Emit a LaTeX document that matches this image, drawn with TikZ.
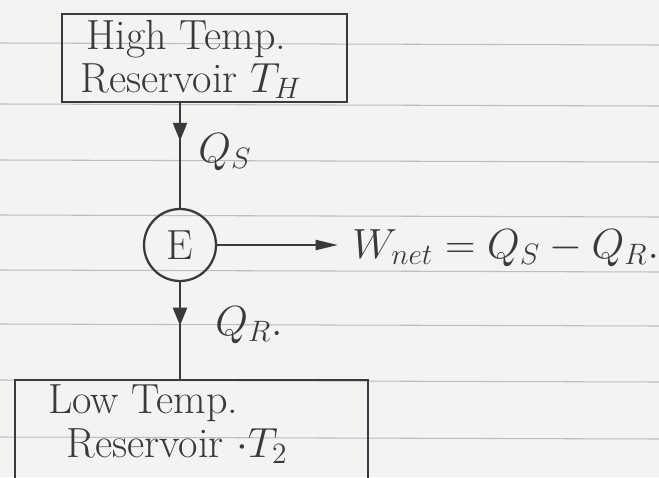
\RequirePackage{fix-cm}
\documentclass[tikz,border=0pt]{standalone}
\usepackage{tikz}
\usetikzlibrary{arrows.meta,decorations.markings}
\definecolor{ink}{HTML}{3A3A3A}
\definecolor{paper}{HTML}{F3F3F1}
\definecolor{ruleline}{HTML}{BDBDBD}

\begin{document}
\begin{tikzpicture}[x=0.02cm, y=-0.02cm,
    hand/.style={font=\fontsize{24}{28}\selectfont, text=ink, inner sep=0pt},
    resbox/.style={draw=ink, line width=1.3pt, inner sep=0pt},
    flow/.style={draw=ink, line width=1.3pt},
    midtip/.style={postaction={decorate}, decoration={markings,
      mark=at position #1 with {\arrow{Triangle[length=3.6mm, width=2.8mm]}}}}]
  % === Paper with ruled lines ===
  \clip (0,0) rectangle (659,477);
  \fill[paper] (0,0) rectangle (659,477);
  \foreach \y in {43,104,160,215,270,324,380,437} {
    \draw[ruleline, line width=0.6pt] (0,\y) -- (659,\y+2);
  }

  % === Reservoirs and engine ===
  \node[resbox, minimum width=5.7cm, minimum height=1.76cm] (hot) at (204.5,58) {};
  \node[hand, anchor=base west] (hotA) at (86,49) {High Temp.};
  \node[hand, anchor=base west] (hotB) at (80,92) {Reservoir $T_H$};

  \node[resbox, hand, circle, minimum size=1.44cm] (eng) at (180,245) {E};

  \node[resbox, minimum width=7.06cm, minimum height=2.4cm] (cold) at (191.5,440) {};
  \node[hand, anchor=base west] (coldA) at (48,413) {Low Temp.};
  \node[hand, anchor=base west] (coldB) at (66,457) {Reservoir $\cdot T_2$};

  % === Heat flows ===
  \draw[flow, midtip=0.36] (eng |- hot.south) -- (eng.north);
  \node[hand, anchor=base west] (qs) at (198,162) {$Q_S$};
  \draw[flow, midtip=0.45] (eng.south) -- (eng |- cold.north);
  \node[hand, anchor=base west] (qr) at (215,335) {$Q_R.$};

  % === Work output ===
  \coordinate (wend) at (338,245);
  \draw[flow, -{Triangle[length=4.5mm, width=2mm]}] (eng.east) -- (wend);
  \node[hand, anchor=base west] (work) at (352,258) {$W_{net} = Q_S - Q_R.$};
\end{tikzpicture}
\end{document}
